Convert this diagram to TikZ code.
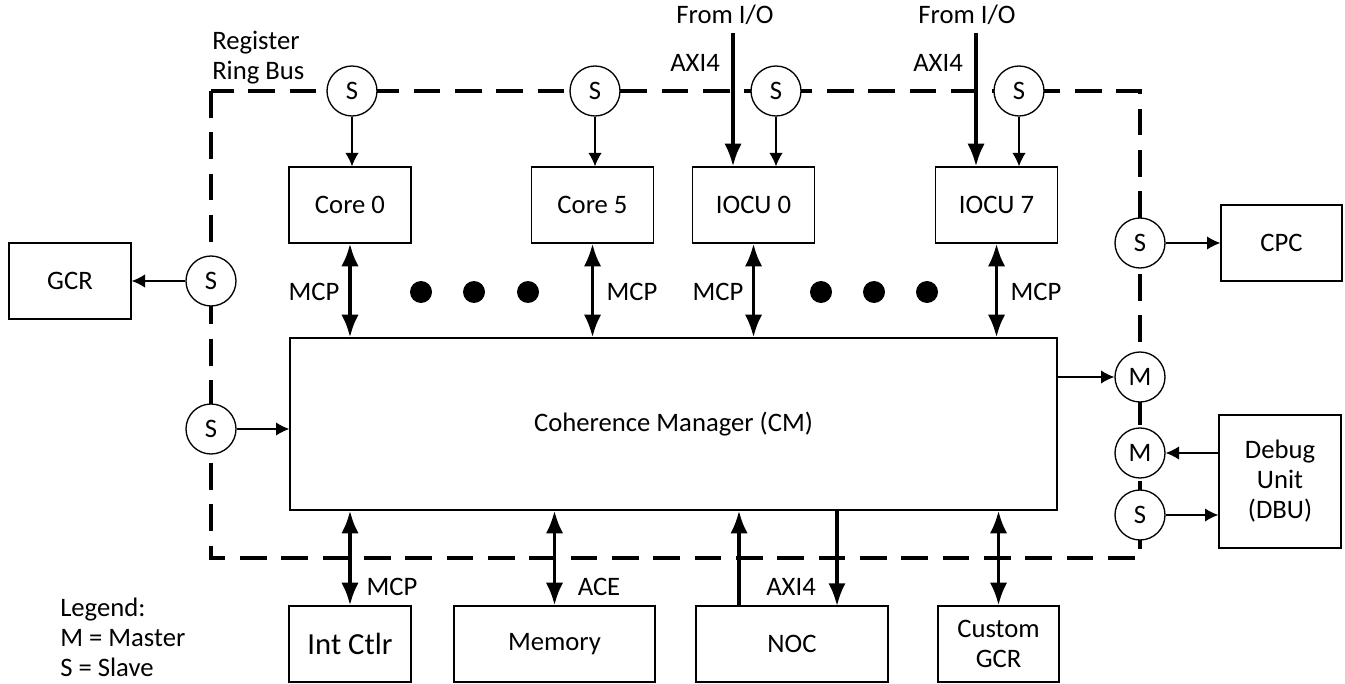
\documentclass[tikz,border=0pt]{standalone}
\usepackage{fontspec}
\setmainfont{Carlito}
\usetikzlibrary{arrows.meta}
\tikzset{
	box/.style={draw, line width=1pt, inner sep=0pt, minimum width=91.5pt, minimum height=57pt, align=center},
	port/.style={draw, circle, fill=white, line width=1pt, inner sep=0pt, minimum size=37.5pt},
	ring/.style={dash pattern=on 20pt off 11pt, line width=2.5pt},
	sig/.style={-{Latex[length=10pt,width=10pt]}, line width=1pt},
	bus/.style={-{Latex[length=17pt,width=13pt]}, line width=2.6pt},
	dbus/.style={{Latex[length=17pt,width=13pt]}-{Latex[length=17pt,width=13pt]}, line width=2.6pt},
	lbl/.style={inner sep=0pt}
}
\begin{document}
\begin{tikzpicture}[x=0.75pt, y=-0.75pt, font=\fontsize{20}{22.5}\selectfont]
	\useasboundingbox (0,0) rectangle (1345,684);
	% register ring bus
	\draw[ring] (211,91) rectangle (1140,558);
	\node[lbl, anchor=west, align=left] (ringlbl) at (212,58) {Register\\Ring Bus};
	% blocks
	\node[box] (core0) at (350,205) {Core 0};
	\node[box] (core5) at (592.5,205) {Core 5};
	\node[box] (iocu0) at (753.5,205) {IOCU 0};
	\node[box] (iocu7) at (996.5,205) {IOCU 7};
	\node[box, minimum width=575.25pt, minimum height=129pt] (cm) at (673.5,424) {Coherence Manager (CM)};
	\node[box] (gcr) at (70,281) {GCR};
	\node[box, minimum width=90.75pt] (cpc) at (1281.5,243) {CPC};
	\node[box, minimum height=99.75pt] (dbu) at (1280,481.5) {Debug\\Unit\\(DBU)};
	\node[box, font=\fontsize{23}{26}\selectfont] (intctl) at (350,644) {Int Ctlr};
	\node[box, minimum width=150.75pt] (mem) at (554.5,644) {Memory};
	\node[box, minimum width=144pt] (noc) at (792,644) {NOC};
	\node[box, minimum width=90.75pt] (cgcr) at (998.5,644) {Custom\\GCR};
	% ports on the ring
	\node[port] (sc0) at (352,91) {S};
	\node[port] (sc5) at (595,91) {S};
	\node[port] (si0) at (776,91) {S};
	\node[port] (si7) at (1019,91) {S};
	\node[port] (sgcr) at (211,281) {S};
	\node[port] (scm) at (211,429) {S};
	\node[port] (scpc) at (1140,243) {S};
	\node[port] (mcm) at (1140,377) {M};
	\node[port] (mdbu) at (1140,453) {M};
	\node[port] (sdbu) at (1140,515) {S};
	% ring taps
	\draw[sig] (sc0) -- (sc0 |- core0.north);
	\draw[sig] (sc5) -- (sc5 |- core5.north);
	\draw[sig] (si0) -- (si0 |- iocu0.north);
	\draw[sig] (si7) -- (si7 |- iocu7.north);
	\draw[sig] (sgcr) -- (gcr.east |- sgcr);
	\draw[sig] (scm) -- (cm.west |- scm);
	\draw[sig] (scpc) -- (cpc.west |- scpc);
	\draw[sig] (cm.east |- mcm) -- (mcm);
	\draw[sig] (dbu.west |- mdbu) -- (mdbu);
	\draw[sig] (sdbu) -- (dbu.west |- sdbu);
	% I/O inputs
	\node[lbl] (from0) at (725,15) {From I/O};
	\node[lbl] (from7) at (967,15) {From I/O};
	\coordinate (in0) at (733,33);
	\coordinate (in7) at (976,33);
	\draw[bus] (in0) -- (in0 |- iocu0.north);
	\draw[bus] (in7) -- (in7 |- iocu7.north);
	\node[lbl] (axi0) at (695,63) {AXI4};
	\node[lbl] (axi7) at (938,63) {AXI4};
	% MCP links
	\draw[dbus] (core0.south) -- (core0.south |- cm.north);
	\draw[dbus] (core5.south) -- (core5.south |- cm.north);
	\draw[dbus] (iocu0.south) -- (iocu0.south |- cm.north);
	\draw[dbus] (iocu7.south) -- (iocu7.south |- cm.north);
	\node[lbl] (mcp0) at (314,292) {MCP};
	\node[lbl] (mcp5) at (632,292) {MCP};
	\node[lbl] (mcpi0) at (718,292) {MCP};
	\node[lbl] (mcpi7) at (1036,292) {MCP};
	\foreach \x in {421,474,528,821,874,927}
		\fill (\x,292) circle[radius=8.25pt];
	% lower links
	\draw[dbus] (intctl.north) -- (intctl.north |- cm.south);
	\draw[dbus] (mem.north) -- (mem.north |- cm.south);
	\coordinate (nocin) at (739,606);
	\coordinate (nocout) at (837,606);
	\draw[bus] (nocin) -- (nocin |- cm.south);
	\draw[bus] (nocout |- cm.south) -- (nocout);
	\draw[dbus] (cgcr.north) -- (cgcr.north |- cm.south);
	\node[lbl] (mcpb) at (392,587) {MCP};
	\node[lbl] (ace) at (599,587) {ACE};
	\node[lbl] (axib) at (791,587) {AXI4};
	% legend
	\node[lbl, anchor=west, align=left] (legend) at (60,637) {Legend:\\M = Master\\S = Slave};
\end{tikzpicture}
\end{document}
